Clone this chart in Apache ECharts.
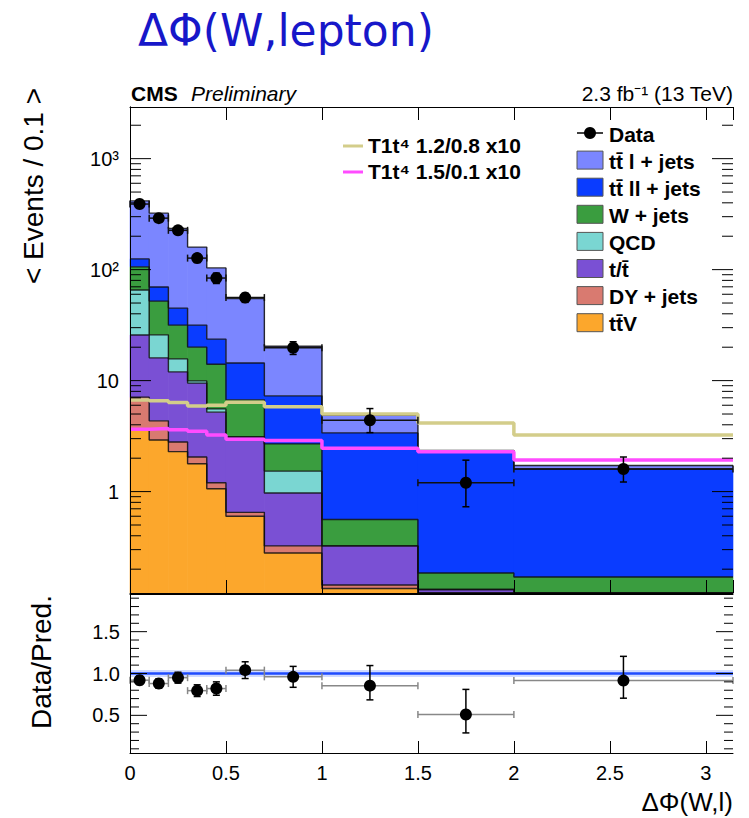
<!DOCTYPE html>
<html><head><meta charset="utf-8">
<script src="https://cdn.jsdelivr.net/npm/echarts@6/dist/echarts.min.js"></script>
<style>html,body{margin:0;padding:0;background:#fff}#c{width:749px;height:818px}</style>
</head><body><div id="c"></div>
<script>
// ---------------- data ----------------
const binEdges = [0, 0.1, 0.2, 0.3, 0.4, 0.5, 0.7, 1.0, 1.5, 2.0, Math.PI];
// background components (events / 0.1), stacked bottom -> top
const ttV       = [3.6, 2.92, 2.29, 1.78, 1.06, 0.60, 0.28, 0.134, 0.05, 0.03];
const dyJets    = [3.5, 1.42, 0.51, 0.27, 0.14, 0.05, 0.044, 0.01, 0.01, 0.005];
const singleTop = [18.7, 11.7, 9.2, 7.45, 4.0, 2.46, 0.646, 0.18, 0.071, 0.045];
const qcd       = [39.8, 9.8, 3.7, 0.44, 0.36, 0.0, 0.56, 0.0, 0.0, 0.0];
const wJets     = [40.4, 26.2, 15.9, 10.1, 8.5, 3.6, 1.16, 0.236, 0.054, 0.09];
const ttDilep   = [19, 17.8, 13.4, 11.6, 9.6, 7.7, 4.6, 2.82, 2.13, 1.43];
const ttSemilep = [291, 253, 190, 128, 80, 40.6, 13.1, 1.5, 0.03, 0.12];
// data
const dataVals  = [390, 291, 226, 127, 84, 56, 19.8, 4.4, 1.2, 1.6];
const dataErrLo = [20, 17, 15, 11, 9, 5.3, 2.6, 1.0, 0.47, 0.38];
const dataErrHi = [20, 17, 15, 11, 9, 5.3, 2.6, 1.2, 0.72, 0.45];
// signals (x10)
const sigA = [6.7, 6.6, 6.35, 5.9, 6.0, 6.4, 5.8, 5.0, 4.15, 3.24]; // T1t4 1.2/0.8
const sigB = [3.65, 3.7, 3.6, 3.5, 3.24, 2.97, 2.88, 2.46, 2.29, 1.93]; // T1t4 1.5/0.1
// ratio panel
const ratioVals  = [0.92, 0.88, 0.95, 0.795, 0.82, 1.04, 0.96, 0.855, 0.51, 0.915];
const ratioErrLo = [0.05, 0.055, 0.065, 0.07, 0.08, 0.10, 0.125, 0.17, 0.22, 0.21];
const ratioErrHi = [0.05, 0.055, 0.065, 0.07, 0.08, 0.10, 0.125, 0.24, 0.30, 0.29];
const ratioRef = 1.0;
// axis ranges / ticks
const yMin = 0.122, yMax = 2920;
const rMin = 0.05, rMax = 1.95;
const xMin = 0, xMax = Math.PI;
const mainTicks = [];
for (let d = -1; d <= 3; d++) for (let m = 1; m <= 9; m++) {
  const v = m * Math.pow(10, d);
  if (v > yMin && v < yMax) mainTicks.push([v, m === 1 ? 1 : 0]);
}
const ratioTicks = [];
for (let k = 1; k <= 19; k++) ratioTicks.push([k / 10, k % 5 === 0 ? 1 : 0]);

// ---------------- styling ----------------
const FONT = '"Liberation Sans", Arial, Helvetica, sans-serif';
const components = [
  {name: 'tt\u0304V',          vals: ttV,       color: '#fca72c'},
  {name: 'DY + jets',          vals: dyJets,    color: '#d97a70'},
  {name: 't/t\u0304',          vals: singleTop, color: '#7a50d4'},
  {name: 'QCD',                vals: qcd,       color: '#7ad6d2'},
  {name: 'W + jets',           vals: wJets,     color: '#3a9d3f'},
  {name: 'tt\u0304 ll + jets', vals: ttDilep,   color: '#0a3cff'},
  {name: 'tt\u0304 l + jets',  vals: ttSemilep, color: '#7b86ff'}
];

function stepData(vals) {
  const out = [];
  vals.forEach((v, i) => { out.push([binEdges[i], v]); out.push([binEdges[i + 1], v]); });
  return out;
}

const nb = binEdges.length - 1;
let cum = new Array(nb).fill(0);
const series = [];
components.forEach((c, ci) => {
  const lo = cum.slice();
  cum = cum.map((v, i) => v + c.vals[i]);
  const hi = cum.slice();
  series.push({
    type: 'custom', name: c.name, xAxisIndex: 0, yAxisIndex: 0, z: 2,
    encode: {x: 0, y: 3}, silent: true,
    data: c.vals.map((_, i) => [binEdges[i], binEdges[i + 1], lo[i], hi[i]]),
    renderItem: (params, api) => {
      const x0 = api.value(0), x1 = api.value(1);
      const y0 = Math.max(api.value(2), yMin), y1 = Math.min(Math.max(api.value(3), yMin), yMax);
      if (y1 <= y0 * 1.0001) return {type: 'group', children: []};
      const p0 = api.coord([x0, y0]), p1 = api.coord([x1, y1]);
      return {type: 'rect', shape: {x: p0[0] - 0.3, y: p1[1], width: p1[0] - p0[0] + 0.6, height: p0[1] - p1[1]},
        style: {fill: c.color, stroke: null}};
    }
  });
  // histogram outline (step line along the cumulative top)
  series.push({type: 'line', xAxisIndex: 0, yAxisIndex: 0, z: 3, symbol: 'none', silent: true,
    data: stepData(hi.map(v => Math.max(v, yMin))),
    lineStyle: {color: 'rgba(15,15,15,0.85)', width: 1.4}});
});

series.push({type: 'line', xAxisIndex: 0, yAxisIndex: 0, z: 4, symbol: 'none', silent: true,
  data: stepData(sigA), lineStyle: {color: '#d3cd8a', width: 3.5}});
series.push({type: 'line', xAxisIndex: 0, yAxisIndex: 0, z: 4, symbol: 'none', silent: true,
  data: stepData(sigB), lineStyle: {color: '#ff4cff', width: 3.5}});

function pointRender(clampMin, hColor) {
  return (params, api) => {
    const xc = api.value(0), v = api.value(1), elo = api.value(2), ehi = api.value(3);
    const xl = api.value(4), xh = api.value(5);
    const c = api.coord([xc, v]);
    const pl = api.coord([xl, v]), ph = api.coord([xh, v]);
    const pt = api.coord([xc, v + ehi]), pb = api.coord([xc, Math.max(v - elo, clampMin)]);
    const cap = 3.5, lw = 1.5;
    const ln = (x1, y1, x2, y2, col) => ({type: 'line', shape: {x1, y1, x2, y2}, style: {stroke: col, lineWidth: lw}});
    return {type: 'group', children: [
      ln(pl[0], c[1], ph[0], c[1], hColor),
      ln(pl[0], c[1] - cap, pl[0], c[1] + cap, hColor),
      ln(ph[0], c[1] - cap, ph[0], c[1] + cap, hColor),
      ln(c[0], pb[1], c[0], pt[1], '#000'),
      ln(c[0] - cap, pt[1], c[0] + cap, pt[1], '#000'),
      ln(c[0] - cap, pb[1], c[0] + cap, pb[1], '#000'),
      {type: 'circle', shape: {cx: c[0], cy: c[1], r: 6}, style: {fill: '#000'}}
    ]};
  };
}
const centers = binEdges.slice(0, -1).map((e, i) => (e + binEdges[i + 1]) / 2);
series.push({type: 'custom', xAxisIndex: 0, yAxisIndex: 0, z: 6, silent: true, encode: {x: 0, y: 1},
  data: dataVals.map((v, i) => [centers[i], v, dataErrLo[i], dataErrHi[i], binEdges[i], binEdges[i + 1]]),
  renderItem: pointRender(yMin, '#111')});

// tick marks on y axes (both sides)
function tickRender(xLo, xHi, majLen, minLen) {
  return (params, api) => {
    const v = api.value(1), major = api.value(2) === 1;
    const L = major ? majLen : minLen;
    const pl = api.coord([xLo, v]), pr = api.coord([xHi, v]);
    return {type: 'group', children: [
      {type: 'line', shape: {x1: pl[0], y1: pl[1], x2: pl[0] + L, y2: pl[1]}, style: {stroke: '#000', lineWidth: 1}},
      {type: 'line', shape: {x1: pr[0], y1: pr[1], x2: pr[0] - L, y2: pr[1]}, style: {stroke: '#000', lineWidth: 1}}
    ]};
  };
}
series.push({type: 'custom', xAxisIndex: 0, yAxisIndex: 0, z: 8, silent: true, encode: {x: 0, y: 1},
  data: mainTicks.map(t => [xMin, t[0], t[1]]), renderItem: tickRender(xMin, xMax, 21, 11)});
series.push({type: 'custom', xAxisIndex: 2, yAxisIndex: 2, z: 8, silent: true, encode: {x: 0, y: 1},
  data: ratioTicks.map(t => [xMin, t[0], t[1]]), renderItem: tickRender(xMin, xMax, 17, 9)});

// ratio panel
series.push({type: 'line', xAxisIndex: 2, yAxisIndex: 2, z: 3, symbol: 'none', silent: true,
  data: [[xMin, ratioRef], [xMax, ratioRef]], lineStyle: {color: 'rgba(120,150,255,0.35)', width: 7}});
series.push({type: 'line', xAxisIndex: 2, yAxisIndex: 2, z: 4, symbol: 'none', silent: true,
  data: [[xMin, ratioRef], [xMax, ratioRef]], lineStyle: {color: '#1f4bff', width: 2.5}});
series.push({type: 'custom', xAxisIndex: 2, yAxisIndex: 2, z: 6, silent: true, encode: {x: 0, y: 1},
  data: ratioVals.map((v, i) => [centers[i], v, ratioErrLo[i], ratioErrHi[i], binEdges[i], binEdges[i + 1]]),
  renderItem: pointRender(rMin, '#888')});

const sup = {2: '\u00b2', 3: '\u00b3'};
const axisLineStyle = {show: true, lineStyle: {color: '#000', width: 1}};
const xBase = {type: 'value', min: xMin, max: xMax, interval: 0.5, splitLine: {show: false}, axisLine: axisLineStyle, z: 10};

const option = {
  animation: false,
  backgroundColor: '#fff',
  grid: [
    {left: 130, top: 107, width: 603, height: 486, show: false},
    {left: 130, top: 594, width: 603, height: 159, show: false}
  ],
  xAxis: [
    Object.assign({}, xBase, {gridIndex: 0, position: 'bottom', axisLabel: {show: false}, axisTick: {inside: true, length: 13, lineStyle: {color: '#000'}}}),
    Object.assign({}, xBase, {gridIndex: 0, position: 'top', axisLabel: {show: false}, axisTick: {inside: true, length: 13, lineStyle: {color: '#000'}}}),
    Object.assign({}, xBase, {gridIndex: 1, position: 'bottom',
      axisTick: {inside: true, length: 12, lineStyle: {color: '#000'}},
      axisLabel: {show: true, margin: 10, color: '#000', fontFamily: FONT, fontSize: 20, showMaxLabel: false,
        formatter: v => (Math.abs(v * 2 - Math.round(v * 2)) < 1e-9 ? String(v) : '')}}),
    Object.assign({}, xBase, {gridIndex: 1, position: 'top', axisLabel: {show: false}, axisTick: {show: false}})
  ],
  yAxis: [
    {gridIndex: 0, type: 'log', logBase: 10, min: yMin, max: yMax, position: 'left', z: 10,
      axisLine: axisLineStyle, axisTick: {show: false}, splitLine: {show: false},
      axisLabel: {show: true, margin: 11, color: '#000', fontFamily: FONT, fontSize: 20, showMinLabel: false, showMaxLabel: false,
        formatter: v => {
          const l = Math.log10(v), e = Math.round(l);
          if (Math.abs(l - e) > 1e-6) return '';
          return e === 0 ? '1' : e === 1 ? '10' : '10' + (sup[e] || '');
        }}},
    {gridIndex: 0, type: 'log', logBase: 10, min: yMin, max: yMax, position: 'right', z: 10,
      axisLine: axisLineStyle, axisTick: {show: false}, axisLabel: {show: false}, splitLine: {show: false}},
    {gridIndex: 1, type: 'value', min: rMin, max: rMax, minInterval: 0.5, maxInterval: 0.5, position: 'left', z: 10,
      axisLine: axisLineStyle, axisTick: {show: false}, splitLine: {show: false},
      axisLabel: {show: true, margin: 10, color: '#000', fontFamily: FONT, fontSize: 20, showMinLabel: false, showMaxLabel: false,
        formatter: v => (Math.abs(v * 2 - Math.round(v * 2)) < 1e-9 ? v.toFixed(1) : '')}},
    {gridIndex: 1, type: 'value', min: rMin, max: rMax, position: 'right', z: 10,
      axisLine: axisLineStyle, axisTick: {show: false}, axisLabel: {show: false}, splitLine: {show: false}}
  ],
  series: series,
  graphic: []
};

// texts and legend
const g = option.graphic;
const txt = (x, y, text, extra) => g.push({type: 'text', x, y, z: 20, silent: true,
  style: Object.assign({text, fill: '#000', font: '20px ' + FONT, align: 'left', verticalAlign: 'middle'}, extra || {})});
txt(138, 30, '\u0394\u03a6(W,lepton)', {fill: '#1717c9', font: '44px "DejaVu Sans", Verdana, sans-serif'});
txt(131, 93, 'CMS', {font: 'bold 21px ' + FONT});
txt(191, 93, 'Preliminary', {font: 'italic 21px ' + FONT});
txt(733, 93, '2.3 fb\u207b\u00b9 (13 TeV)', {font: '21px ' + FONT, align: 'right'});
g.push({type: 'text', x: 33, y: 186, rotation: Math.PI / 2, z: 20, silent: true,
  style: {text: '< Events / 0.1 >', fill: '#000', font: '28px ' + FONT, align: 'center', verticalAlign: 'middle'}});
g.push({type: 'text', x: 41, y: 662, rotation: Math.PI / 2, z: 20, silent: true,
  style: {text: 'Data/Pred.', fill: '#000', font: '28px ' + FONT, align: 'center', verticalAlign: 'middle'}});
txt(733, 802, '\u0394\u03a6(W,l)', {font: '26px ' + FONT, align: 'right'});

// signal legend
[[sigA, '#d3cd8a', 'T1t\u2074 1.2/0.8 x10'], [sigB, '#ff4cff', 'T1t\u2074 1.5/0.1 x10']].forEach((s, i) => {
  const y = 145 + i * 26;
  g.push({type: 'line', z: 20, silent: true, shape: {x1: 343, y1: y + 1, x2: 363, y2: y + 1}, style: {stroke: s[1], lineWidth: 3}});
  txt(368, y, s[2], {font: 'bold 21px ' + FONT});
});
// background legend
const lx = 577, ly0 = 133, ldy = 27.1;
g.push({type: 'line', z: 20, silent: true, shape: {x1: lx, y1: ly0, x2: lx + 26, y2: ly0}, style: {stroke: '#000', lineWidth: 1.5}});
g.push({type: 'circle', z: 21, silent: true, shape: {cx: lx + 13, cy: ly0, r: 6}, style: {fill: '#000'}});
txt(lx + 32, ly0 + 1, 'Data', {font: 'bold 21px ' + FONT});
components.slice().reverse().forEach((c, i) => {
  const y = ly0 + (i + 1) * ldy;
  g.push({type: 'rect', z: 20, silent: true, shape: {x: lx, y: y - 9, width: 26, height: 18},
    style: {fill: c.color, stroke: '#555', lineWidth: 1}});
  txt(lx + 32, y + 1, c.name, {font: 'bold 21px ' + FONT});
});

const chart = echarts.init(document.getElementById('c'), null, {renderer: 'svg', width: 749, height: 818});
chart.setOption(option);
</script>
</body></html>
